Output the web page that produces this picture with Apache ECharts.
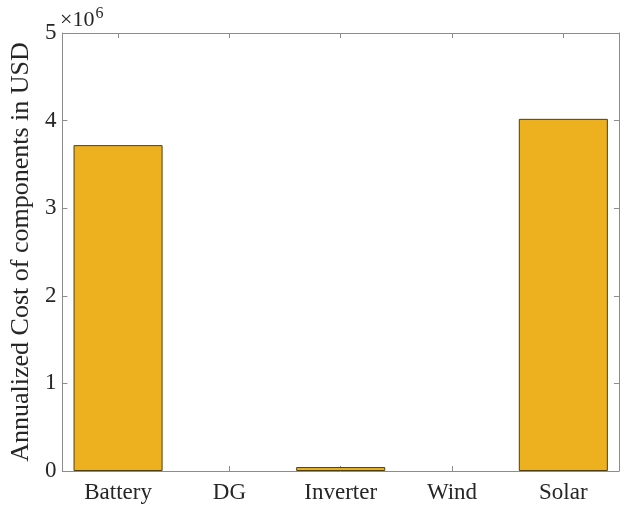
<!DOCTYPE html>
<html>
<head>
<meta charset="utf-8">
<script src="https://cdn.jsdelivr.net/npm/echarts@6/dist/echarts.min.js"></script>
<style>
  html, body { margin: 0; padding: 0; background: #fff; }
  #chart { width: 636px; height: 505px; }
</style>
</head>
<body>
<div id="chart"></div>
<script>
// Annualized cost per component (USD)
const categories = ['Battery', 'DG', 'Inverter', 'Wind', 'Solar'];
const costs = [3.72e6, 0, 0.045e6, 0, 4.02e6];
const yTicks = [0, 1e6, 2e6, 3e6, 4e6, 5e6];

const font = 'Liberation Serif';
const axisGray = '#8c8c8c';
const barColor = '#EDB120';

const chart = echarts.init(document.getElementById('chart'), null, { renderer: 'canvas' });

const boxLine = { show: true, onZero: false, lineStyle: { color: axisGray, width: 1 } };

// zero-cost components leave no visible outline
const barData = costs.map(v => ({
  value: v,
  itemStyle: v === 0 ? { borderWidth: 0 } : {}
}));

chart.setOption({
  animation: false,
  backgroundColor: '#ffffff',
  grid: { left: 58, right: 17, top: 33, bottom: 34, containLabel: false },
  xAxis: [
    {
      type: 'category',
      data: categories,
      position: 'bottom',
      axisLine: boxLine,
      axisTick: { show: true, inside: true, alignWithLabel: true, length: 5, lineStyle: { color: axisGray } },
      axisLabel: { fontFamily: font, fontSize: 23, color: '#262626', margin: 10 },
      splitLine: { show: false }
    },
    {
      type: 'category',
      data: categories,
      position: 'top',
      axisLine: boxLine,
      axisTick: { show: true, inside: true, alignWithLabel: true, length: 5, lineStyle: { color: axisGray } },
      axisLabel: { show: false },
      splitLine: { show: false }
    }
  ],
  yAxis: [
    {
      type: 'value',
      min: yTicks[0],
      max: yTicks[yTicks.length - 1],
      interval: yTicks[1] - yTicks[0],
      position: 'left',
      name: 'Annualized Cost of components in USD',
      nameLocation: 'middle',
      nameGap: 28,
      nameTextStyle: { fontFamily: font, fontSize: 26, color: '#262626' },
      axisLine: boxLine,
      axisTick: { show: true, inside: true, length: 5, lineStyle: { color: axisGray } },
      axisLabel: {
        fontFamily: font, fontSize: 23, color: '#262626', margin: 6,
        formatter: v => String(v / 1e6)
      },
      splitLine: { show: false }
    },
    {
      type: 'value',
      min: yTicks[0],
      max: yTicks[yTicks.length - 1],
      interval: yTicks[1] - yTicks[0],
      position: 'right',
      axisLine: boxLine,
      axisTick: { show: true, inside: true, length: 5, lineStyle: { color: axisGray } },
      axisLabel: { show: false },
      splitLine: { show: false }
    }
  ],
  graphic: [
    {
      type: 'text',
      left: 60,
      top: 6,
      style: {
        text: '×10{sup|6}',
        fontFamily: font,
        fontSize: 22,
        fill: '#262626',
        rich: {
          sup: { fontFamily: font, fontSize: 16, fill: '#262626', verticalAlign: 'top', padding: [0, 0, 12, 1] }
        }
      }
    }
  ],
  series: [
    {
      type: 'bar',
      data: barData,
      barWidth: '80%',
      itemStyle: { color: barColor, borderColor: '#4d3f12', borderWidth: 1 }
    }
  ]
});
</script>
</body>
</html>
